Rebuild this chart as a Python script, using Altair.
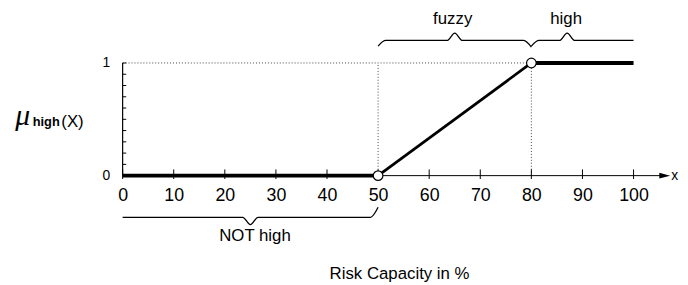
import altair as alt
import pandas as pd

# ---- data ----
x_knots = [0, 50, 80, 100]
mu_knots = [0, 0, 1, 1]
x_ticks = [0, 10, 20, 30, 40, 50, 60, 70, 80, 90, 100]
y_minor = [0.0, 0.1, 0.2, 0.3, 0.4, 0.5, 0.6, 0.7, 0.8, 0.9, 1.0]
y_labels = [0, 1]
brace_start = [50, 80, 0]
brace_tip = [65, 87, 25]
brace_end = [80, 100, 50]
brace_level = [1.20, 1.20, -0.37]
brace_tipdir = [1, 1, -1]
brace_curl_l = [-0.05, -0.05, 0.0]
brace_curl_r = [-0.06, 0.0, 0.09]
brace_text = ["fuzzy", "high", "NOT high"]
text_x = [64.6, 86.8, 25.9]
text_level = [1.39, 1.39, -0.535]
x_title = "Risk Capacity in %"

FONT = "Liberation Sans"
xs = alt.Scale(domain=[0, 100], nice=False, zero=False)
ys = alt.Scale(domain=[0, 1], nice=False, zero=False)
xaxis = alt.Axis(values=x_ticks, grid=False, domain=False, ticks=False, labelFont=FONT,
                 labelFontSize=18, labelColor="black", labelPadding=11, labelFlush=False,
                 labelOverlap=False, title=None)
yaxis = alt.Axis(values=y_labels, grid=False, domain=False, ticks=False, labelFont=FONT,
                 labelFontSize=14, labelColor="black", labelPadding=13, labelFlush=False,
                 title=None, format="d")


def X(f):
    return alt.X(f, type="quantitative", scale=xs, axis=xaxis)


def Y(f):
    return alt.Y(f, type="quantitative", scale=ys, axis=yaxis)


# guides (dotted)
guide_h = pd.DataFrame({"x": [x_knots[0]], "x2": [x_knots[2]], "y": [mu_knots[2]]})
guide_v = pd.DataFrame({"x": [x_knots[1], x_knots[2]], "y": [0, 0], "y2": [1, 1]})
g1 = alt.Chart(guide_h).mark_rule(strokeDash=[1, 2], color="#444", strokeWidth=1).encode(
    x=X("x"), x2="x2", y=Y("y"))
g2 = alt.Chart(guide_v).mark_rule(strokeDash=[1, 2], color="#444", strokeWidth=1).encode(
    x=X("x"), y=Y("y"), y2="y2")

# axes drawn as marks
axis_df = pd.DataFrame({"x": [0], "x2": [105.5], "y": [0]})
xline = alt.Chart(axis_df).mark_rule(color="black", strokeWidth=1).encode(x=X("x"), x2="x2", y=Y("y"))
arrow = alt.Chart(pd.DataFrame({"x": [106.1], "y": [0]})).mark_point(
    shape="M-1,-0.55L1,0L-1,0.55Z", filled=True, color="black", size=121, opacity=1).encode(
    x=X("x"), y=Y("y"))
xt_df = pd.DataFrame({"x": x_ticks, "y": [-0.03] * len(x_ticks), "y2": [0.055] * len(x_ticks)})
xticks = alt.Chart(xt_df).mark_rule(color="black", strokeWidth=1).encode(x=X("x"), y=Y("y"), y2="y2")
yline = alt.Chart(pd.DataFrame({"x": [0], "y": [0], "y2": [1]})).mark_rule(
    color="black", strokeWidth=1.2).encode(x=X("x"), y=Y("y"), y2="y2")
yt_df = pd.DataFrame({"y": y_minor, "x": [0] * len(y_minor), "x2": [0.7] * len(y_minor)})
yticks = alt.Chart(yt_df).mark_rule(color="black", strokeWidth=1).encode(x=X("x"), x2="x2", y=Y("y"))

# membership function
flat_df = pd.DataFrame({
    "x": [x_knots[0], x_knots[1], x_knots[2], x_knots[3]],
    "mu": [mu_knots[0], mu_knots[1], mu_knots[2], mu_knots[3]],
    "seg": ["a", "a", "b", "b"],
})
flat = alt.Chart(flat_df).mark_line(color="black", strokeWidth=4, strokeCap="butt").encode(
    x=X("x"), y=Y("mu"), detail="seg")
ramp_df = pd.DataFrame({"x": x_knots[1:3], "mu": mu_knots[1:3]})
ramp = alt.Chart(ramp_df).mark_line(color="black", strokeWidth=2.8).encode(x=X("x"), y=Y("mu"))
circ = alt.Chart(ramp_df).mark_point(shape="circle", filled=True, fill="white", stroke="black",
                                      strokeWidth=1.2, size=95, opacity=1).encode(x=X("x"), y=Y("mu"))

# braces
rows = []
for i in range(len(brace_start)):
    s, t, e, lv = brace_start[i], brace_tip[i], brace_end[i], brace_level[i]
    td = 0.065 * brace_tipdir[i]
    pts = [(s, lv + brace_curl_l[i]), (s + 1.5, lv), (t - 1.5, lv), (t, lv + td),
           (t + 1.5, lv), (e - 1.5, lv), (e, lv + brace_curl_r[i])]
    for k, (px, py) in enumerate(pts):
        rows.append({"b": i, "o": k, "x": px, "y": py})
brace_df = pd.DataFrame(rows)
braces = alt.Chart(brace_df).mark_line(color="black", strokeWidth=1.3, interpolate="monotone").encode(
    x=X("x"), y=Y("y"), detail="b:N", order="o:Q")

lab_df = pd.DataFrame({"x": text_x, "y": text_level, "t": brace_text})
labels = alt.Chart(lab_df).mark_text(font=FONT, fontSize=17, color="black").encode(
    x=X("x"), y=Y("y"), text="t")

title_df = pd.DataFrame({"x": [54.2], "y": [-0.875], "t": [x_title]})
xtitle = alt.Chart(title_df).mark_text(font=FONT, fontSize=17, color="black").encode(
    x=X("x"), y=Y("y"), text="t")

xend = alt.Chart(pd.DataFrame({"x": [107.4], "y": [0.0], "t": ["x"]})).mark_text(
    font=FONT, fontSize=14, color="black", align="left").encode(x=X("x"), y=Y("y"), text="t")

mu_df = pd.DataFrame({"x": [-21.0], "y": [0.447], "t": ["μ"]})
mu = alt.Chart(mu_df).mark_text(font="Liberation Serif", fontStyle="italic", fontSize=30,
                                 color="black", align="left", baseline="alphabetic").encode(
    x=X("x"), y=Y("y"), text="t")
sub_df = pd.DataFrame({"x": [-17.6], "y": [0.439], "t": ["high"]})
sub = alt.Chart(sub_df).mark_text(font=FONT, fontWeight="bold", fontSize=13, color="black",
                                   align="left", baseline="alphabetic").encode(
    x=X("x"), y=Y("y"), text="t")
par_df = pd.DataFrame({"x": [-12.0], "y": [0.43], "t": ["(X)"]})
par = alt.Chart(par_df).mark_text(font=FONT, fontSize=17, color="black",
                                   align="left", baseline="alphabetic").encode(
    x=X("x"), y=Y("y"), text="t")

chart = alt.layer(g1, g2, xline, arrow, xticks, yline, yticks, flat, ramp, circ, braces, labels,
                  xtitle, xend, mu, sub, par).properties(
    width=517, height=114,
    autosize=alt.AutoSizeParams(type="none"),
    padding={"left": 116, "top": 54, "right": 47, "bottom": 106},
).configure_view(stroke=None)

chart.save("out.html", embed_options={"renderer": "svg", "actions": False})
